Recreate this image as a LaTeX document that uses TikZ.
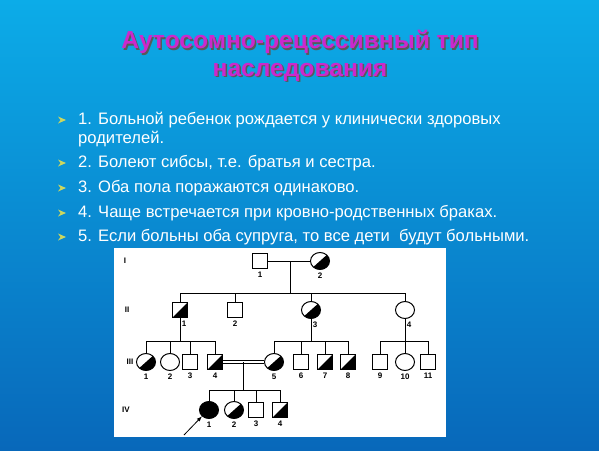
\documentclass[tikz,border=0pt]{standalone}
\usepackage{fontspec}
\setmainfont{Liberation Sans}
\usetikzlibrary{shapes, arrows, positioning, calc}

\definecolor{bgtop}{RGB}{12,172,232}
\definecolor{bgbottom}{RGB}{8,104,186}
\definecolor{titlepink}{RGB}{204,40,204}
\definecolor{bulletgreen}{RGB}{205,215,95}

\begin{document}
\begin{tikzpicture}[x=1pt, y=-1pt,
  male/.style={draw, line width=1pt, rectangle, minimum size=15pt, inner sep=0pt, fill=white},
  female/.style={draw, line width=1pt, ellipse, minimum width=19pt, minimum height=17pt, inner sep=0pt, fill=white},
  carrier/.style={path picture={\fill[black] (path picture bounding box.south west) -- (path picture bounding box.north east) -- (path picture bounding box.south east) -- cycle;}},
  affected/.style={fill=black},
  num/.style={font=\bfseries\fontsize{8}{8}\selectfont, inner sep=0pt},
  gen/.style={font=\bfseries\fontsize{8}{8}\selectfont, inner sep=0pt},
  txt/.style={text=white, font=\fontsize{16.6}{16.6}\selectfont, anchor=west, inner sep=0pt},
  ttl/.style={font=\bfseries\fontsize{24.6}{24.6}\selectfont, inner sep=0pt},
  line/.style={line width=1pt}
]
\useasboundingbox (0,0) rectangle (599,450);
\shade[top color=bgtop, bottom color=bgbottom] (0,0) rectangle (599,450);

% Title
\node[ttl, text=black!65] (t1s) at (301.5,43.5) {Аутосомно-рецессивный тип};
\node[ttl, text=black!65] (t2s) at (301.5,73.5) {наследования};
\node[ttl, text=titlepink] (t1) at (300,42) {Аутосомно-рецессивный тип};
\node[ttl, text=titlepink] (t2) at (300,72) {наследования};

% Bullets
\foreach \y in {120,163,188,213,237}
  \fill[bulletgreen] (58,\y-3.5) -- (66,\y) -- (58,\y+3.5) -- (60.5,\y) -- cycle;
\node[txt] (b1) at (78,120) {1. Больной ребенок рождается у клинически здоровых};
\node[txt] (b1b) at (78,139) {родителей.};
\node[txt] (b2) at (78,163) {2. Болеют сибсы, т.е. братья и сестра.};
\node[txt] (b3) at (78,188) {3. Оба пола поражаются одинаково.};
\node[txt] (b4) at (78,213) {4. Чаще встречается при кровно-родственных браках.};
\node[txt] (b5) at (78,237) {5. Если больны оба супруга, то все дети\ \ будут больными.};

% Pedigree
\fill[white] (114,248) rectangle (446,437);

\node[gen] (g1) at (125,261) {I};
\node[gen] (g2) at (127,310) {II};
\node[gen] (g3) at (130,362) {III};
\node[gen] (g4) at (126,410) {IV};

% generation I
\node[male, label={[num, label distance=3pt]below:1}] (i1) at (260,261) {};
\node[female, carrier, label={[num, label distance=3pt]below:2}] (i2) at (320,261) {};

% generation II
\node[male, carrier, label={[num, label distance=3pt, xshift=4pt]below:1}] (ii1) at (180,310) {};
\node[male, label={[num, label distance=3pt]below:2}] (ii2) at (235,310) {};
\node[female, carrier, label={[num, label distance=3pt, xshift=4pt]below:3}] (ii3) at (311,310) {};
\node[female, label={[num, label distance=3pt, xshift=4pt]below:4}] (ii4) at (405,310) {};

% generation III
\node[female, carrier, label={[num, label distance=3pt]below:1}] (iii1) at (146,362) {};
\node[female, label={[num, label distance=3pt]below:2}] (iii2) at (170,362) {};
\node[male, label={[num, label distance=3pt]below:3}] (iii3) at (190,362) {};
\node[male, carrier, label={[num, label distance=3pt]below:4}] (iii4) at (215,362) {};
\node[female, carrier, label={[num, label distance=3pt]below:5}] (iii5) at (274,362) {};
\node[male, label={[num, label distance=3pt]below:6}] (iii6) at (301,362) {};
\node[male, carrier, label={[num, label distance=3pt]below:7}] (iii7) at (325,362) {};
\node[male, carrier, label={[num, label distance=3pt]below:8}] (iii8) at (348,362) {};
\node[male, label={[num, label distance=3pt]below:9}] (iii9) at (380,362) {};
\node[female, label={[num, label distance=3pt]below:10}] (iii10) at (405,362) {};
\node[male, label={[num, label distance=3pt]below:11}] (iii11) at (428,362) {};

% generation IV
\node[female, affected, label={[num, label distance=3pt]below:1}] (iv1) at (209,410) {};
\node[female, carrier, label={[num, label distance=3pt]below:2}] (iv2) at (234,410) {};
\node[male, label={[num, label distance=3pt]below:3}] (iv3) at (256,410) {};
\node[male, carrier, label={[num, label distance=3pt]below:4}] (iv4) at (280,410) {};

% marriages and sibships
\coordinate (m1) at (290,261);
\coordinate (s2) at (290,293);
\draw[line] (i1.east) -- (i2.west);
\draw[line] (m1) -- (s2);
\draw[line] (ii1 |- s2) -- (ii4 |- s2);
\foreach \n in {ii1,ii2,ii3,ii4}
  \draw[line] (\n |- s2) -- (\n.north);

\coordinate (s3) at (0,341);
\draw[line] (ii1.south) -- (ii1 |- s3);
\draw[line] (iii1 |- s3) -- (iii4 |- s3);
\draw[line] (ii3.south) -- (ii3 |- s3);
\draw[line] (iii5 |- s3) -- (iii8 |- s3);
\draw[line] (ii4.south) -- (ii4 |- s3);
\draw[line] (iii9 |- s3) -- (iii11 |- s3);
\foreach \n in {iii1,iii2,iii3,iii4,iii5,iii6,iii7,iii8,iii9,iii10,iii11}
  \draw[line] (\n |- s3) -- (\n.north);

\draw[line width=0.8pt, double, double distance=2pt] (iii4.east) -- (iii5.west);
\coordinate (m3) at (243,362);
\coordinate (s4) at (243,390);
\draw[line] (m3) -- (s4);
\draw[line] (iv1 |- s4) -- (iv4 |- s4);
\foreach \n in {iv1,iv2,iv3,iv4}
  \draw[line] (\n |- s4) -- (\n.north);

% proband
\coordinate (pr) at (184,435);
\draw[line width=0.8pt, -latex] (pr) -- (iv1.south west);
\end{tikzpicture}
\end{document}
